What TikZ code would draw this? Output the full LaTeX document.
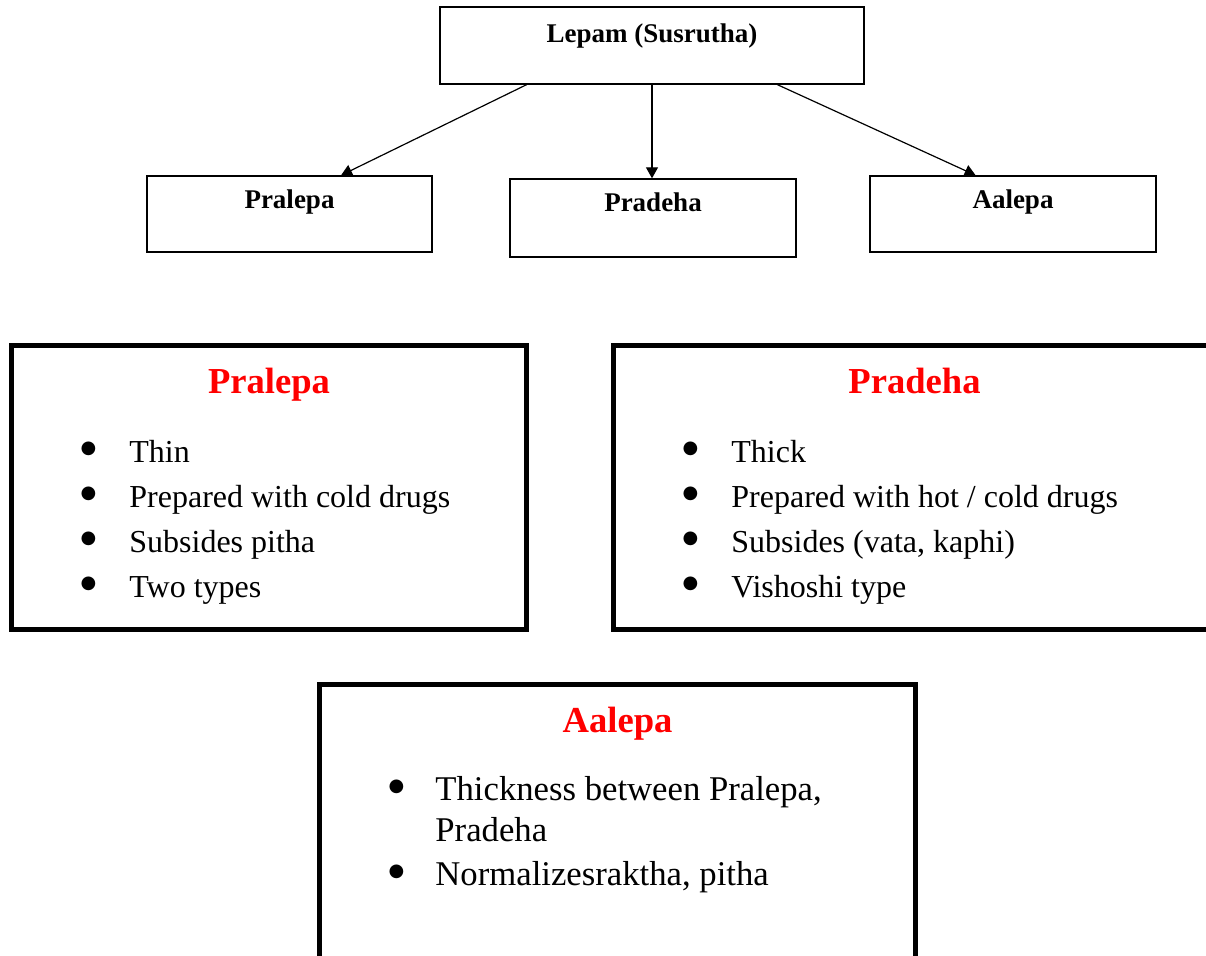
\documentclass[tikz,border=0pt]{standalone}
\usepackage{fontspec}
\setmainfont{Liberation Serif}
\newfontfamily\dotfont{DejaVu Sans}
\usetikzlibrary{arrows.meta,calc}

\newcommand{\dotmark}[1][16.5pt]{\llap{\raisebox{4.1pt}{\dotfont\fontsize{9}{9}\selectfont ●}\hspace{#1}}}

\tikzset{
  smallbox/.style={draw, rectangle, line width=0.7pt, inner sep=0pt},
  bigbox/.style={draw, rectangle, line width=2.25pt, inner sep=0pt},
  boxlabel/.style={anchor=base, inner sep=0pt, font=\fontsize{13.5}{16}\selectfont\bfseries},
  headline/.style={anchor=base, inner sep=0pt, text=red, font=\fontsize{18.3}{22}\selectfont\bfseries},
  bulletline/.style={anchor=base west, inner sep=0pt, font=\fontsize{16}{19}\selectfont},
  bigbulletline/.style={bulletline, font=\fontsize{17.35}{21}\selectfont},
  link/.style={-{Triangle[length=5.5pt,width=6pt]}, line width=0.6pt}
}

\begin{document}
\begin{tikzpicture}[x=0.5pt, y=-0.5pt]
    \useasboundingbox (0,0) rectangle (1206,955);
    \clip (0,0) rectangle (1206,955);

    % upper chart
    \node[smallbox, minimum width=212pt, minimum height=38.5pt] (Lepam) at (652,45.5) {};
    \node[boxlabel] (LepamText) at (652,42) {Lepam (Susrutha)};

    \node[smallbox, minimum width=142.5pt, minimum height=38pt] (Pralepa) at (289.5,214) {};
    \node[boxlabel] (PralepaText) at (289.5,208) {Pralepa};
    \node[smallbox, minimum width=143pt, minimum height=39pt] (Pradeha) at (653,218) {};
    \node[boxlabel] (PradehaText) at (653,211) {Pradeha};
    \node[smallbox, minimum width=143pt, minimum height=38pt] (Aalepa) at (1013,214) {};
    \node[boxlabel] (AalepaText) at (1013,208) {Aalepa};

    \draw[link] ($(Lepam.south west)!0.205!(Lepam.south east)$) -- ($(Pralepa.north west)!0.68!(Pralepa.north east)$);
    \draw[link] (Lepam.south) -- (Lepam.south |- Pradeha.north);
    \draw[link] ($(Lepam.south west)!0.795!(Lepam.south east)$) -- ($(Aalepa.north west)!0.37!(Aalepa.north east)$);

    % Pralepa details
    \node[bigbox, minimum width=257.5pt, minimum height=142pt] (PralepaBox) at (269,487.5) {};
    \node[headline] (PralepaHead) at (269,393) {Pralepa};
    \node[bulletline] (PralepaA) at (129,462) {\dotmark Thin};
    \node[bulletline] (PralepaB) at (129,507) {\dotmark Prepared with cold drugs};
    \node[bulletline] (PralepaC) at (129,552) {\dotmark Subsides pitha};
    \node[bulletline] (PralepaD) at (129,597) {\dotmark Two types};

    % Pradeha details
    \node[bigbox, minimum width=300.75pt, minimum height=142pt] (PradehaBox) at (914.25,487.5) {};
    \node[headline] (PradehaHead) at (914.5,393) {Pradeha};
    \node[bulletline] (PradehaA) at (731,462) {\dotmark Thick};
    \node[bulletline] (PradehaB) at (731,507) {\dotmark Prepared with hot / cold drugs};
    \node[bulletline] (PradehaC) at (731,552) {\dotmark Subsides (vata, kaphi)};
    \node[bulletline] (PradehaD) at (731,597) {\dotmark Vishoshi type};

    % Aalepa details
    \node[bigbox, minimum width=298pt, minimum height=170pt] (AalepaBox) at (617.5,854.5) {};
    \node[headline] (AalepaHead) at (617.5,732) {Aalepa};
    \node[bigbulletline] (AalepaA) at (435,800) {\dotmark[15.5pt]Thickness between Pralepa,};
    \node[bigbulletline] (AalepaB) at (435,841) {Pradeha};
    \node[bigbulletline] (AalepaC) at (435,885) {\dotmark[15.5pt]Normalizesraktha, pitha};
\end{tikzpicture}
\end{document}
